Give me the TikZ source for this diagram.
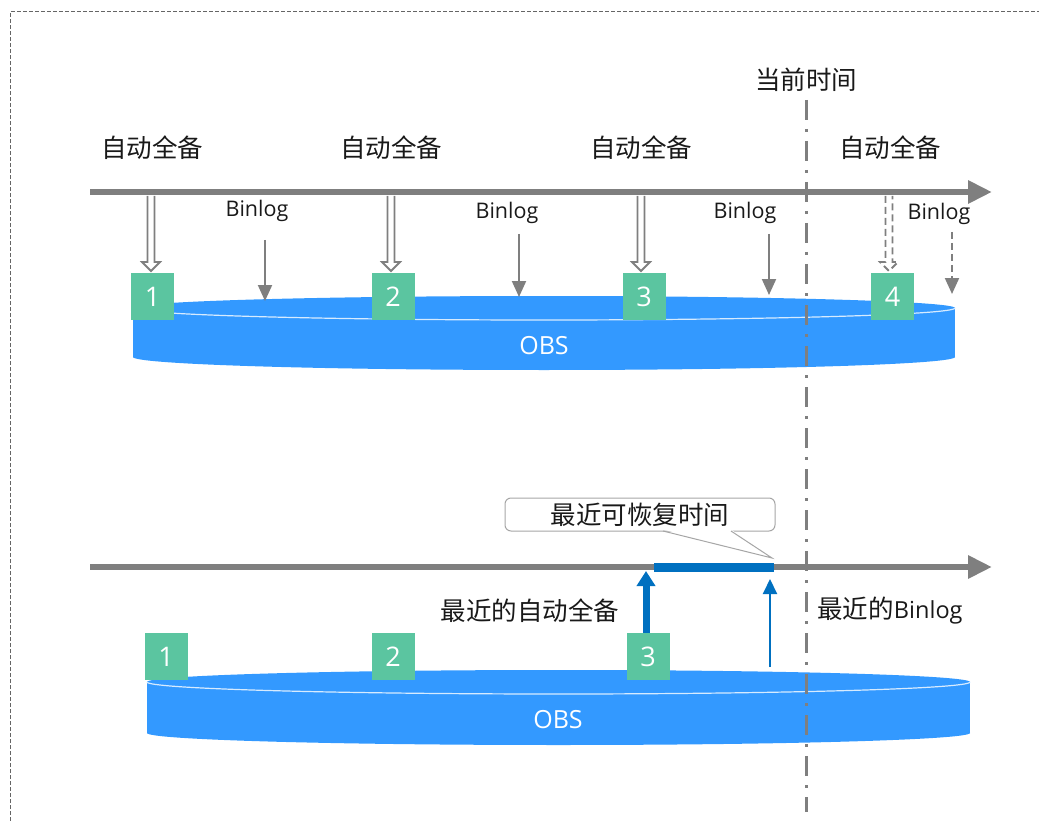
\documentclass[tikz,border=0pt]{standalone}
\usepackage{fontspec}
\setmainfont{Open Sans}
\newfontfamily\cjk{Noto Sans CJK SC}
\usetikzlibrary{arrows.meta}
\definecolor{axisgray}{HTML}{7F7F7F}
\definecolor{boxgreen}{HTML}{5BC5A0}
\definecolor{obsblue}{HTML}{3399FF}
\definecolor{darkblue}{HTML}{0070C0}
\tikzset{
  axis/.style={axisgray, line width=6pt, -{Triangle[width=22pt,length=24pt]}},
  cnlabel/.style={font=\cjk\fontsize{25.5}{30}\selectfont, text=black!90, inner sep=0pt},
  binlabel/.style={font=\fontsize{21.5}{25}\selectfont, text=black!90, inner sep=0pt},
  numbox/.style={fill=boxgreen, minimum width=43pt, minimum height=47pt, inner sep=0pt,
     text=white, font=\fontsize{27}{30}\selectfont},
  blockarrow/.style={draw=axisgray, fill=white, line width=1.8pt, line join=miter},
  blockarrowdash/.style={blockarrow, dash pattern=on 7pt off 4pt},
  binarrow/.style={axisgray, line width=2pt, -{Triangle[width=14pt,length=16pt]}},
  binarrowdash/.style={binarrow, dash pattern=on 7pt off 4pt},
  obslabel/.style={text=white, font=\fontsize{25}{29}\selectfont, inner sep=0pt},
}
% hollow block arrow hanging down from a named coordinate
\newcommand{\backuparrow}[2][blockarrow]{%
  \draw[#1] (#2) ++(-3.5,0) -- ++(0,66) -- ++(-5.5,0) -- ++(9,9) -- ++(9,-9) -- ++(-5.5,0) -- ++(0,-66);}
\begin{document}
\begin{tikzpicture}[x=1pt,y=-1pt]
\useasboundingbox (0,0) rectangle (1039,821);
% border
\draw[axisgray!80!black, line width=1pt, dash pattern=on 4pt off 2pt] (10,821) -- (10,12) -- (1039,12);

% ---------- top cylinder ----------
\fill[obsblue] (133,308) rectangle (955,357);
\fill[obsblue] (544,357) ellipse [x radius=411pt, y radius=13pt];
\fill[obsblue] (544,308) ellipse [x radius=411pt, y radius=12pt];
\draw[white!80!obsblue, line width=1.2pt] (133,308) arc[start angle=180, end angle=360, x radius=411pt, y radius=12pt];
\node[obslabel] (obs1) at (544,346) {OBS};

% ---------- bottom cylinder ----------
\fill[obsblue] (147,682) rectangle (970,733);
\fill[obsblue] (558.5,733) ellipse [x radius=411.5pt, y radius=12pt];
\fill[obsblue] (558.5,682) ellipse [x radius=411.5pt, y radius=12pt];
\draw[white!80!obsblue, line width=1.2pt] (147,682) arc[start angle=180, end angle=360, x radius=411.5pt, y radius=12pt];
\node[obslabel] (obs2) at (558,720) {OBS};

% ---------- top timeline ----------
\coordinate (ax1s) at (90,192);
\coordinate (ax1e) at (992,192);
\draw[axis] (ax1s) -- (ax1e);

\node[cnlabel] (f1) at (152,148) {自动全备};
\node[cnlabel] (f2) at (391,148) {自动全备};
\node[cnlabel] (f3) at (641,148) {自动全备};
\node[cnlabel] (f4) at (890,148) {自动全备};

\coordinate (d1) at (151,196);
\coordinate (d2) at (391,196);
\coordinate (d3) at (641,196);
\coordinate (d4) at (889,196);
\backuparrow{d1}
\backuparrow{d2}
\backuparrow{d3}
\backuparrow[blockarrowdash]{d4}

\node[numbox] (b1) at (152.5,296.5) {1};
\node[numbox] (b2) at (393,296.5) {2};
\node[numbox] (b3) at (644,296.5) {3};
\node[numbox] (b4) at (892.5,296.5) {4};

\node[binlabel] (l1) at (257,211) {Binlog};
\node[binlabel] (l2) at (507,213) {Binlog};
\node[binlabel] (l3) at (745,213) {Binlog};
\node[binlabel] (l4) at (939,214) {Binlog};

\coordinate (s1) at (265,240); \coordinate (e1) at (265,301);
\coordinate (s2) at (519,234); \coordinate (e2) at (519,297);
\coordinate (s3) at (769,234); \coordinate (e3) at (769,295);
\coordinate (s4) at (952,232); \coordinate (e4) at (952,294);
\draw[binarrow] (s1) -- (e1);
\draw[binarrow] (s2) -- (e2);
\draw[binarrow] (s3) -- (e3);
\draw[binarrowdash] (s4) -- (e4);

% ---------- bottom timeline ----------
\coordinate (ax2s) at (90,567);
\coordinate (ax2e) at (992,567);
\draw[axis] (ax2s) -- (ax2e);
\coordinate (rs) at (654,567);
\coordinate (re) at (774,567);
\draw[darkblue, line width=9pt] (rs) -- (re);

\node[numbox] (c1) at (166,656.5) {1};
\node[numbox] (c2) at (393,656.5) {2};
\node[numbox] (c3) at (648,656.5) {3};

\coordinate (bt) at (646,571);
\draw[darkblue, line width=7pt, -{Triangle[width=18pt,length=15pt]}] (c3.north -| bt) -- (bt);
\coordinate (bs) at (770,667);
\coordinate (be) at (770,579);
\draw[darkblue, line width=2pt, -{Triangle[width=14pt,length=15pt]}] (bs) -- (be);

\node[cnlabel] (lf) at (530,611) {最近的自动全备};
\node[cnlabel] (lb) at (890,611) {\cjk 最近的\normalfont\fontsize{23.5}{28}\selectfont Binlog};

% callout
\node[draw=black!35, line width=1pt, fill=white, rounded corners=6pt,
      minimum width=270pt, minimum height=33pt, inner sep=0pt,
      font=\cjk\fontsize{25.5}{30}\selectfont, text=black!90] (call) at (640,514.5) {最近可恢复时间};
\coordinate (tip) at (772,558);
\coordinate (pl) at (663,531);
\coordinate (pr) at (731,531);
\fill[white] ([yshift=1.5pt]pl) -- (tip) -- ([yshift=1.5pt]pr) -- cycle;
\draw[black!35, line width=1pt] (pl) -- (tip) -- (pr);

% current time
\coordinate (nowtop) at (806,100);
\coordinate (nowbot) at (806,812);
\draw[axisgray, line width=3pt, dash pattern=on 20pt off 9pt on 3pt off 9pt] (nowtop) -- (nowbot);
\node[cnlabel] (now) at (806,80) {当前时间};
\end{tikzpicture}
\end{document}
